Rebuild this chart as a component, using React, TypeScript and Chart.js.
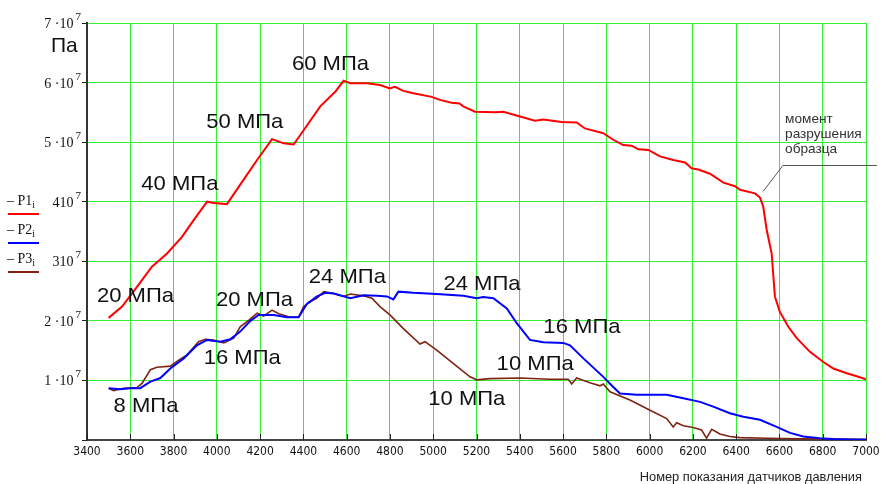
import React, { useEffect, useRef } from "react";
import { Chart, registerables } from "chart.js";

Chart.register(...registerables);

// ---- data (pressure in MPa, x = reading number) ----
const RED_X = [3500, 3562, 3631, 3700, 3770, 3839, 3893, 3955, 3985, 4047, 4101, 4186, 4255, 4309, 4355, 4401, 4478, 4548, 4586, 4617, 4694, 4754, 4800, 4823, 4862, 4908, 4993, 5031, 5085, 5121, 5139, 5193, 5286, 5324, 5393, 5470, 5509, 5593, 5663, 5701, 5786, 5832, 5878, 5917, 5948, 5994, 6048, 6109, 6164, 6194, 6225, 6279, 6341, 6395, 6418, 6487, 6510, 6525, 6541, 6564, 6579, 6602, 6641, 6680, 6741, 6803, 6849, 6911, 6957, 7000];
const RED_Y = [20.5, 22.4, 25.7, 29.1, 31.3, 34.1, 36.9, 40.0, 39.8, 39.6, 42.5, 47.0, 50.5, 49.8, 49.6, 52.0, 56.0, 58.5, 60.3, 59.9, 59.9, 59.6, 59.0, 59.3, 58.6, 58.2, 57.6, 57.1, 56.6, 56.5, 56.0, 55.1, 55.0, 55.1, 54.4, 53.6, 53.8, 53.4, 53.3, 52.3, 51.5, 50.4, 49.5, 49.4, 48.8, 48.7, 47.6, 47.0, 46.6, 45.6, 45.4, 44.7, 43.2, 42.6, 42.0, 41.4, 40.7, 39.2, 35.3, 31.3, 24.1, 21.5, 19.0, 17.1, 14.8, 13.1, 12.0, 11.2, 10.7, 10.2];

const BLUE_X = [3500, 3554, 3600, 3646, 3693, 3739, 3785, 3847, 3908, 3955, 4016, 4062, 4108, 4155, 4193, 4263, 4324, 4378, 4417, 4463, 4501, 4540, 4617, 4678, 4740, 4786, 4816, 4839, 4908, 5016, 5139, 5201, 5231, 5278, 5340, 5386, 5447, 5509, 5601, 5632, 5694, 5786, 5832, 5863, 5940, 6033, 6079, 6156, 6233, 6294, 6371, 6433, 6510, 6587, 6649, 6710, 6787, 6850, 6920, 7000];
const BLUE_Y = [8.7, 8.5, 8.7, 8.7, 9.8, 10.4, 12.0, 13.7, 15.9, 16.8, 16.5, 16.9, 18.2, 20.0, 21.0, 21.0, 20.6, 20.6, 22.9, 24.1, 24.7, 24.6, 23.8, 24.3, 24.2, 24.1, 23.6, 24.9, 24.7, 24.5, 24.2, 23.8, 24.0, 23.8, 22.1, 19.6, 16.8, 16.4, 16.3, 15.9, 13.7, 10.6, 8.9, 7.8, 7.6, 7.6, 7.6, 7.0, 6.4, 5.6, 4.5, 3.9, 3.4, 2.2, 1.2, 0.6, 0.3, 0.15, 0.1, 0.05];

const BROWN_X = [3500, 3523, 3570, 3631, 3654, 3693, 3723, 3785, 3824, 3862, 3916, 3947, 3985, 4032, 4078, 4108, 4147, 4186, 4216, 4255, 4286, 4332, 4378, 4401, 4432, 4463, 4494, 4540, 4586, 4617, 4678, 4717, 4754, 4800, 4862, 4939, 4962, 5016, 5108, 5170, 5201, 5262, 5401, 5540, 5624, 5640, 5663, 5724, 5771, 5786, 5817, 5909, 6002, 6079, 6109, 6125, 6156, 6202, 6240, 6263, 6287, 6325, 6371, 6418, 6541, 6700, 7000];
const BROWN_Y = [8.7, 8.3, 8.7, 8.8, 9.5, 11.8, 12.2, 12.4, 13.4, 14.3, 16.5, 16.9, 16.8, 16.3, 17.1, 19.0, 20.1, 21.3, 20.8, 21.8, 21.2, 20.7, 20.6, 22.4, 23.2, 23.8, 24.9, 24.6, 24.1, 24.5, 24.2, 23.8, 22.4, 21.0, 18.7, 16.1, 16.5, 15.1, 12.4, 10.6, 10.1, 10.3, 10.4, 10.2, 10.2, 9.4, 10.4, 9.6, 9.1, 9.4, 8.1, 6.7, 5.0, 3.6, 2.2, 2.9, 2.4, 2.1, 1.7, 0.3, 1.8, 1.0, 0.6, 0.4, 0.3, 0.2, 0.1];

const SERIES_NAMES = ["P1", "P2", "P3"];
const SERIES_COLORS = ["#ff0000", "#0000ff", "#7e2410"];

// y tick labels: mantissa part and exponent (drawn as superscript)
const Y_TICK_BASE = ["", "1 ·10", "2 ·10", "310", "410", "5 ·10", "6 ·10", "7 ·10"];
const Y_TICK_EXP = ["", "7", "7", "7", "7", "7", "7", "7"];
const X_MIN = 3400;
const X_MAX = 7000;
const X_STEP = 200;

const ANNOT_TEXT = ["60 МПа", "50 МПа", "40 МПа", "20 МПа", "20 МПа", "24 МПа", "24 МПа", "16 МПа", "10 МПа", "10 МПа", "16 МПа", "8 МПа"];
const ANNOT_X = [4347, 3951, 3651, 3446, 3996, 4425, 5047, 5509, 5293, 4977, 3939, 3523];
const ANNOT_Y = [62.1, 52.4, 42.0, 23.2, 22.5, 26.4, 25.1, 17.9, 11.75, 5.9, 12.8, 4.7];

const NOTE_LINES = ["момент", "разрушения", "образца"];
const NOTE_X = 6626;
const NOTE_Y = [53.2, 50.7, 48.2];
const LEADER_X = [6524, 6616, 7051];
const LEADER_Y = [41.8, 46.2, 46.2];

const UNIT_LABEL = "Па";
const X_TITLE = "Номер показания датчиков давления";

const MPA = 1e6;

function toPoints(xs: number[], ys: number[]) {
  return xs.map((x, i) => ({ x, y: ys[i] * MPA }));
}

const overlayPlugin = {
  id: "overlay",
  afterDraw(chart: any) {
    const ctx = chart.ctx as CanvasRenderingContext2D;
    const xs = chart.scales.x;
    const ys = chart.scales.y;
    const area = chart.chartArea;
    ctx.save();

    // x tick marks inside plot
    ctx.strokeStyle = "#222";
    ctx.lineWidth = 1;
    for (let v = X_MIN; v <= X_MAX; v += X_STEP) {
      const px = Math.round(xs.getPixelForValue(v)) + 0.5;
      ctx.beginPath();
      ctx.moveTo(px, area.bottom - 6);
      ctx.lineTo(px, area.bottom);
      ctx.stroke();
    }

    // y tick labels with superscript exponent
    ctx.fillStyle = "#111";
    ctx.textBaseline = "alphabetic";
    ctx.textAlign = "right";
    const rightEdge = area.left - 6;
    Y_TICK_BASE.forEach((b, i) => {
      if (!b) return;
      const py = ys.getPixelForValue(i * 1e7);
      ctx.font = '11px "Liberation Serif", "Times New Roman", serif';
      const ew = ctx.measureText(Y_TICK_EXP[i]).width;
      ctx.fillText(Y_TICK_EXP[i], rightEdge, py - 3);
      ctx.font = '14px "Liberation Serif", "Times New Roman", serif';
      ctx.fillText(b, rightEdge - ew - 2, py + 5);
    });

    // annotations
    ctx.fillStyle = "#111";
    ctx.font = '21px "Liberation Sans", Arial, sans-serif';
    ctx.textAlign = "left";
    ANNOT_TEXT.forEach((t, i) => {
      const px = xs.getPixelForValue(ANNOT_X[i]);
      const py = ys.getPixelForValue(ANNOT_Y[i] * MPA);
      ctx.save();
      ctx.translate(px, py);
      ctx.scale(1.05, 1);
      ctx.fillText(t, 0, 0);
      ctx.restore();
    });

    // note text + leader line
    ctx.fillStyle = "#333";
    ctx.font = '13px "Liberation Sans", Arial, sans-serif';
    NOTE_LINES.forEach((t, i) => {
      ctx.save();
      ctx.translate(xs.getPixelForValue(NOTE_X), ys.getPixelForValue(NOTE_Y[i] * MPA));
      ctx.scale(1.05, 1);
      ctx.fillText(t, 0, 0);
      ctx.restore();
    });
    ctx.strokeStyle = "#555";
    ctx.lineWidth = 1;
    ctx.beginPath();
    LEADER_X.forEach((lx, i) => {
      const px = xs.getPixelForValue(lx);
      const py = Math.round(ys.getPixelForValue(LEADER_Y[i] * MPA)) + 0.5;
      if (i === 0) ctx.moveTo(px, py);
      else ctx.lineTo(px, py);
    });
    ctx.stroke();

    // unit label
    ctx.fillStyle = "#111";
    ctx.font = '21px "Liberation Sans", Arial, sans-serif';
    ctx.fillText(UNIT_LABEL, 51, 52);

    // x axis title
    ctx.fillStyle = "#222";
    ctx.font = '12px "Liberation Sans", Arial, sans-serif';
    ctx.textAlign = "right";
    ctx.save();
    ctx.translate(862, 481);
    ctx.scale(1.07, 1);
    ctx.fillText(X_TITLE, 0, 0);
    ctx.restore();

    // legend
    ctx.textAlign = "left";
    SERIES_NAMES.forEach((name, i) => {
      const base = 205 + i * 29;
      ctx.fillStyle = "#111";
      ctx.font = '14px "Liberation Serif", "Times New Roman", serif';
      const main = "– " + name;
      ctx.fillText(main, 7, base);
      const w = ctx.measureText(main).width;
      ctx.font = '10px "Liberation Serif", "Times New Roman", serif';
      ctx.fillText("i", 7 + w, base + 3);
      ctx.strokeStyle = SERIES_COLORS[i];
      ctx.lineWidth = 2;
      ctx.beginPath();
      ctx.moveTo(8, base + 9);
      ctx.lineTo(39, base + 9);
      ctx.stroke();
    });

    ctx.restore();
  },
};

export default function App() {
  const ref = useRef<HTMLCanvasElement | null>(null);

  useEffect(() => {
    if (!ref.current) return;
    const seriesX = [RED_X, BLUE_X, BROWN_X];
    const seriesY = [RED_Y, BLUE_Y, BROWN_Y];
    const chart = new Chart(ref.current, {
      type: "line",
      data: {
        datasets: SERIES_NAMES.map((name, i) => ({
          label: name,
          data: toPoints(seriesX[i], seriesY[i]),
          borderColor: SERIES_COLORS[i],
          borderWidth: i === 2 ? 1.6 : 2,
          pointRadius: 0,
          tension: 0,
          fill: false,
        })),
      },
      options: {
        animation: false,
        responsive: false,
        devicePixelRatio: 1,
        layout: { padding: { top: 23, right: 15, left: 0, bottom: 0 } },
        plugins: {
          legend: { display: false },
          tooltip: { enabled: false },
        },
        scales: {
          x: {
            type: "linear",
            min: X_MIN,
            max: X_MAX,
            afterFit: (s: any) => {
              s.height = 44;
              s.paddingLeft = 0;
              s.paddingRight = 0;
            },
            afterBuildTicks: (s: any) => {
              const t = [];
              for (let v = X_MIN; v <= X_MAX; v += X_STEP) t.push({ value: v });
              s.ticks = t;
            },
            ticks: {
              autoSkip: false,
              maxRotation: 0,
              padding: 5,
              color: "#111",
              font: { family: '"DejaVu Sans Condensed", "DejaVu Sans", sans-serif', size: 12 },
              callback: (v: any) => String(v),
            },
            grid: { color: "#33ee33", lineWidth: 1, drawTicks: false },
            border: { color: "#444", width: 2 },
          },
          y: {
            min: 0,
            max: 7e7,
            afterFit: (s: any) => {
              s.width = 87;
              s.paddingTop = 0;
              s.paddingBottom = 0;
            },
            afterBuildTicks: (s: any) => {
              s.ticks = Y_TICK_BASE.map((_, i) => ({ value: i * 1e7 }));
            },
            ticks: { display: false },
            grid: { color: "#33ee33", lineWidth: 1, tickColor: "#222", tickLength: 5 },
            border: { color: "#333", width: 2 },
          },
        },
      },
      plugins: [overlayPlugin],
    } as any);
    return () => chart.destroy();
  }, []);

  return (
    <div style={{ position: "fixed", left: 0, top: 0, width: 881, height: 484, background: "#fff" }}>
      <canvas ref={ref} width={881} height={484} style={{ width: 881, height: 484 }} />
    </div>
  );
}
